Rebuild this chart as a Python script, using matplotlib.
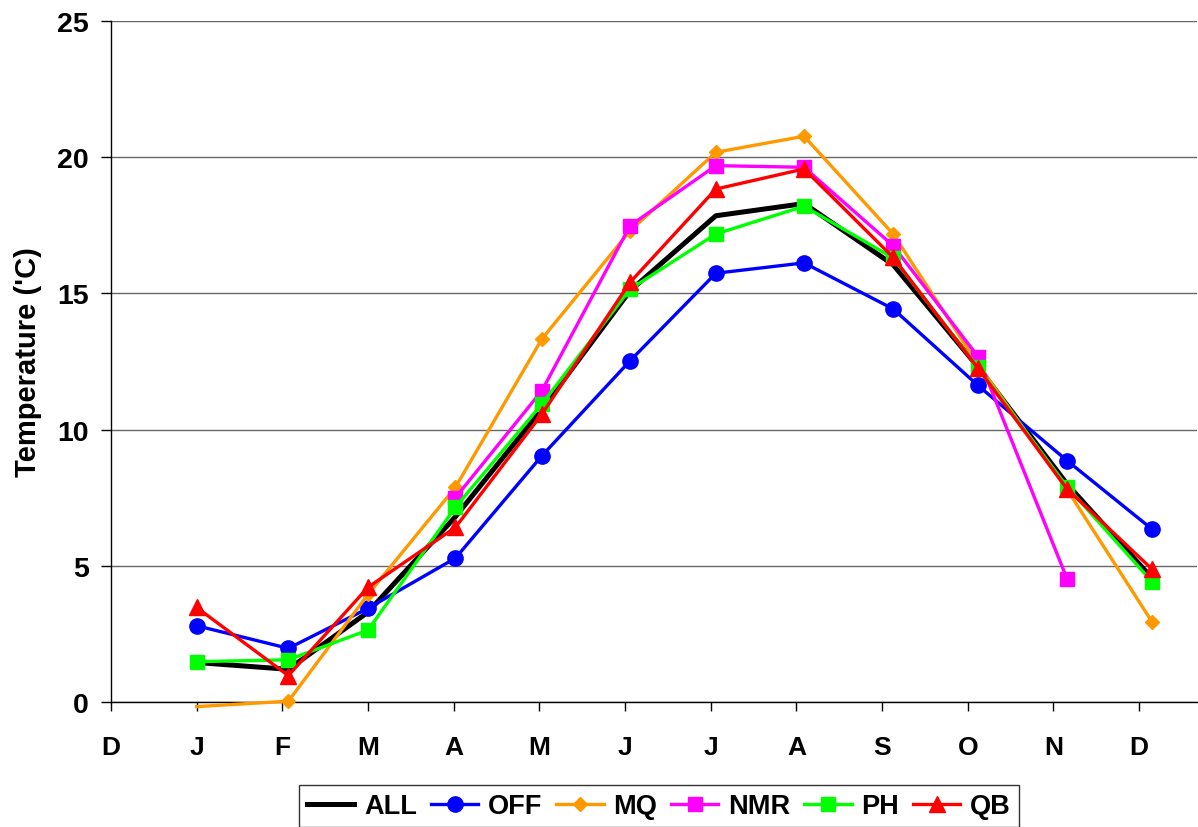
import matplotlib
matplotlib.use("Agg")
import matplotlib.pyplot as plt

plt.rcParams['font.family'] = ['Liberation Sans', 'DejaVu Sans']

tick_labels = ["D", "J", "F", "M", "A", "M", "J", "J", "A", "S", "O", "N", "D"]
# x position of each monthly value (in month units, Dec = 0)
month_x = [1.0, 2.07, 3.0, 4.02, 5.03, 6.06, 7.06, 8.09, 9.13, 10.12, 11.16, 12.15]

ALL = [1.45, 1.2, 3.3, 6.8, 10.75, 15.1, 17.85, 18.3, 16.05, 12.3, 8.0, 4.55]
OFF = [2.8, 1.97, 3.44, 5.28, 9.04, 12.53, 15.74, 16.12, 14.43, 11.62, 8.86, 6.35]
MQ = [-0.17, 0.03, 3.95, 7.88, 13.33, 17.3, 20.18, 20.77, 17.18, 12.4, 7.8, 2.95]
NMR = [None, None, None, 7.5, 11.43, 17.49, 19.69, 19.63, 16.75, 12.68, 4.52, None]
PH = [1.48, 1.55, 2.64, 7.15, 10.94, 15.16, 17.18, 18.2, 16.3, 12.28, 7.9, 4.42]
QB = [3.47, 0.97, 4.21, 6.41, 10.57, 15.41, 18.83, 19.57, 16.32, 12.25, 7.82, 4.88]

fig = plt.figure(figsize=(11.98, 8.28), dpi=100)
ax = fig.add_axes([111/1198, 1-703/828, (1197-111)/1198, (703-22)/828])

ax.plot(month_x, ALL, color='black', lw=3.6, label='ALL', zorder=3)
ax.plot(month_x, OFF, color='#0000FF', lw=2.4, marker='o', ms=11, label='OFF', zorder=4)
ax.plot(month_x, MQ, color='#FF9900', lw=2.4, marker='D', ms=7.5, label='MQ',
        markevery=list(range(1, 12)), clip_on=False, zorder=5)
nx = [x for x, v in zip(month_x, NMR) if v is not None]
nv = [v for v in NMR if v is not None]
ax.plot(nx, nv, color='#FF00FF', lw=2.4, marker='s', ms=10, label='NMR', zorder=6)
ax.plot(month_x, PH, color='#00FF00', lw=2.4, marker='s', ms=10, label='PH', zorder=7)
ax.plot(month_x, QB, color='#FF0000', lw=2.4, marker='^', ms=11, label='QB', zorder=8)

ax.set_xlim(0, (1197-111)/85.67)
ax.set_ylim(0, 25)
ax.set_xticks(range(len(tick_labels)))
ax.set_xticklabels(tick_labels)
ax.set_yticks([0, 5, 10, 15, 20, 25])
ax.yaxis.grid(True, color='#666666', lw=1)
ax.set_axisbelow(True)
for s in ['top', 'right']:
    ax.spines[s].set_visible(False)
for s in ['left', 'bottom']:
    ax.spines[s].set_linewidth(1)
ax.tick_params(axis='both', width=1)
ax.tick_params(axis='y', direction='out', length=7.5, pad=8.5, labelsize=20.5)
ax.tick_params(axis='x', direction='out', length=6.5, pad=17, labelsize=19)
for lbl in ax.get_xticklabels() + ax.get_yticklabels():
    lbl.set_fontweight('bold')
ax.set_ylabel("Temperature ('C)", fontsize=21, fontweight='bold')
ax.yaxis.set_label_coords(-(111-42)/1086, 0.5)

leg = fig.legend(loc='upper center', bbox_to_anchor=(659/1198, 1-786/828), ncol=6,
                 prop={'size': 19.5, 'weight': 'bold'}, frameon=True, fancybox=False,
                 edgecolor='black', handlelength=1.75, handletextpad=0.37, columnspacing=0.5,
                 borderpad=0.3, borderaxespad=0)
leg.get_frame().set_linewidth(1)

fig.savefig('out.png', dpi=100)
